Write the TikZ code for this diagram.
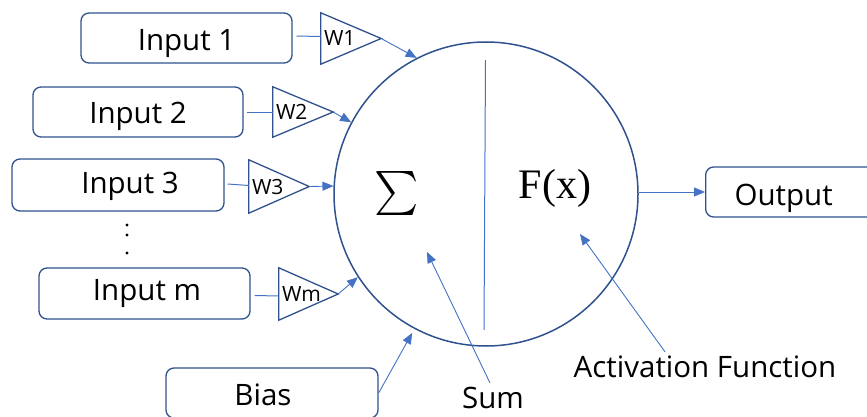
\documentclass[tikz,border=0pt]{standalone}
\usepackage{fontspec}
\setmainfont{Open Sans}
\newfontfamily\seriffont{Liberation Serif}
\usetikzlibrary{arrows.meta,calc}
\definecolor{dkblue}{HTML}{2F528F}
\definecolor{ltblue}{HTML}{4472C4}
\tikzset{
  box/.style={draw=dkblue, line width=1.3pt, rounded corners=8pt, minimum width=211pt, minimum height=50pt, inner sep=0pt, text height=23pt, text depth=0pt, font=\fontsize{29.5}{30}\selectfont},
  wbox/.style={inner sep=0pt, minimum width=60pt, minimum height=51pt},
  tri/.style={draw=dkblue, line width=1.3pt, line join=miter},
  wlab/.style={font=\fontsize{21}{22}\selectfont, inner sep=0pt, anchor=west},
  conn/.style={draw=ltblue, line width=1pt},
  arr/.style={draw=ltblue, line width=0.9pt, -{Triangle[length=11pt,width=9pt]}, ltblue},
  lab/.style={font=\fontsize{29.5}{30}\selectfont, inner sep=0pt},
}
\begin{document}
\begin{tikzpicture}[x=1pt,y=-1pt]
\useasboundingbox (0,0) rectangle (867,417);
% neuron
\node[circle, draw=dkblue, line width=1.5pt, minimum size=304pt, inner sep=0pt] (neuron) at (486,194) {};
\draw[conn] ([yshift=-19pt,xshift=-0.5pt]neuron.north) -- ([yshift=17pt,xshift=-2pt]neuron.south);
\node[inner sep=0pt, xscale=4.2, yscale=4.4] (sigma) at (397,193) {$\textstyle\sum$};
\node[inner sep=0pt] (fx) at (555,188) {\seriffont\fontsize{42}{42}\selectfont F(x)};
% input boxes
\node[box, text height=26pt] (in1) at (186.5,38) {Input 1};
\node[box, minimum width=210pt, text height=24pt] (in2) at (138,112) {Input 2};
\node[box, minimum width=212pt, minimum height=52pt, text height=16pt] (in3) at (118,185) {\hspace*{24pt}Input 3};
\node[box, minimum height=51pt, text height=14pt] (inm) at (144.5,293.5) {\hspace*{5pt}Input m};
\node[box, minimum width=212pt, text height=25pt] (bias) at (272,393) {\hspace*{-18pt}Bias};
\node[box, minimum width=180pt, anchor=west, text height=26pt] (out) at (705,192) {\hspace*{-24pt}Output};
% dots
\foreach \yy in {225,235,253} \fill (127,\yy) circle (1.7pt);
% weight triangles
\node[wbox] (w1) at (351,38.5) {};
\node[wbox, minimum height=50pt] (w2) at (303,112) {};
\node[wbox, minimum height=53pt] (w3) at (279,186.5) {};
\node[wbox, minimum width=59pt, minimum height=52pt] (wm) at (308.5,294) {};
\foreach \w/\t in {w1/W1,w2/W2,w3/W3,wm/Wm}{
  \draw[tri] (\w.north west) -- (\w.east) -- (\w.south west) -- cycle;
  \node[wlab] at ([xshift=3pt]\w.west) {\t};
}
% connectors box -> triangle
\draw[conn] ([xshift=4pt,yshift=2pt]in1.east) -- ([yshift=2pt]w1.west);
\draw[conn] ([xshift=3pt,yshift=-1pt]in2.east) -- ([yshift=-1pt]w2.west);
\draw[conn] ([xshift=3pt,yshift=1pt]in3.east) -- ([yshift=1pt]w3.west);
\draw[conn] ([xshift=4pt,yshift=-2pt]inm.east) -- ([yshift=-2pt]wm.west);
% arrows into neuron
\draw[arr] (w1.east) -- (neuron.117.9);
\draw[arr] (w2.east) -- (neuron.152.1);
\draw[arr] (w3.east) -- (neuron.177.4);
\draw[arr] (wm.east) -- (neuron.213.2);
\draw[arr] (bias.east) -- ($(neuron.center)!1.03!(neuron.242.9)$);
\draw[arr] (neuron.east |- out.west) -- (out.west);
% labels
\node[lab] (sum) at (493,398) {Sum};
\node[lab] (act) at (705,367) {Activation Function};
\coordinate (sumtip) at (427,252);
\coordinate (acttip) at (580,234);
\draw[arr] ([xshift=-3pt,yshift=4pt]sum.north) -- (sumtip);
\draw[arr] ([xshift=-40pt,yshift=4pt]act.north) -- (acttip);
\end{tikzpicture}
\end{document}
